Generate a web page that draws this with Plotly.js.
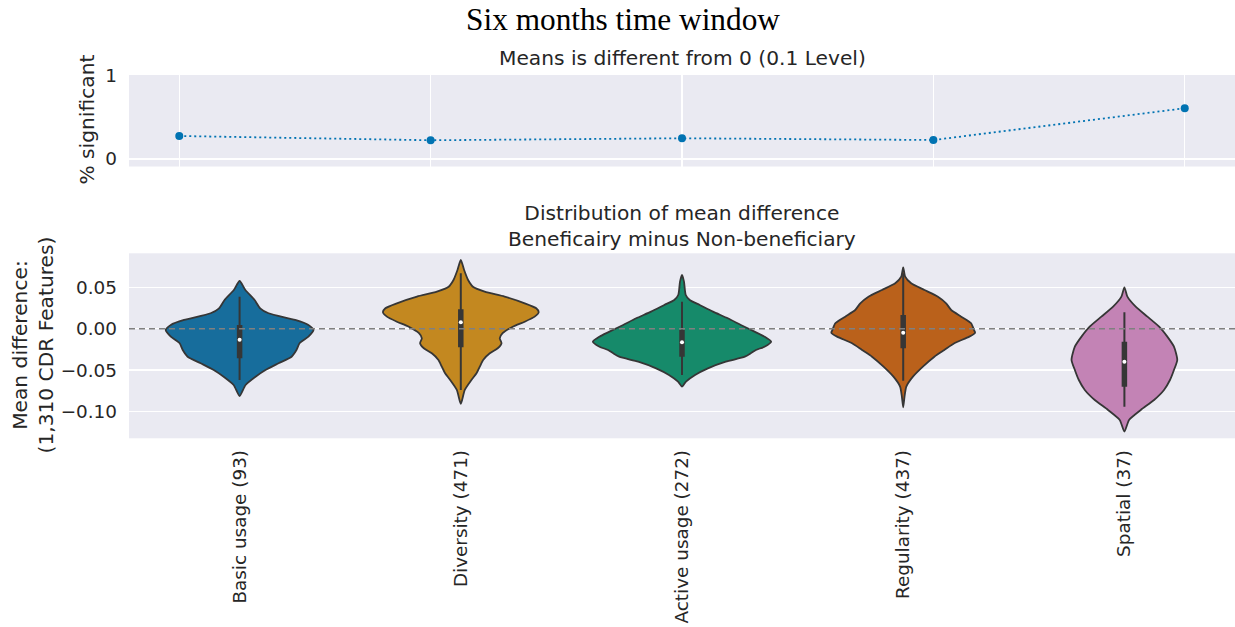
<!DOCTYPE html>
<html><head><meta charset="utf-8">
<script src="https://cdn.plot.ly/plotly-3.0.1.min.js"></script>
<style>html,body{margin:0;padding:0;background:#fff}</style>
</head><body><div id="chart" style="width:1235px;height:627px"></div>
<script>
// ---------- data ----------
const categories = ['Basic usage (93)', 'Diversity (471)', 'Active usage (272)', 'Regularity (437)', 'Spatial (37)'];
const pctSignificant = [0.275, 0.224, 0.248, 0.227, 0.607];

// violin density profiles: levels (mean difference) and half widths (category units)
const basicLevels = [0.0575, 0.0467, 0.0346, 0.0246, 0.0186, 0.0105, 0.0045, -0.0016, -0.0096, -0.0176, -0.0257, -0.0338, -0.0417, -0.0498, -0.0579, -0.0679, -0.0812];
const basicWidths = [0, 0.026, 0.068, 0.093, 0.131, 0.251, 0.311, 0.334, 0.311, 0.271, 0.257, 0.235, 0.176, 0.117, 0.072, 0.027, 0];
const diversityLevels = [0.0828, 0.0708, 0.0587, 0.0506, 0.0446, 0.0386, 0.0306, 0.0246, 0.0198, 0.0145, 0.0084, 0.0024, -0.0055, -0.0116, -0.0176, -0.0236, -0.0297, -0.0377, -0.0458, -0.0538, -0.0619, -0.0739, -0.0908];
const diversityWidths = [0, 0.015, 0.033, 0.055, 0.108, 0.198, 0.289, 0.341, 0.352, 0.334, 0.289, 0.235, 0.189, 0.176, 0.184, 0.167, 0.131, 0.101, 0.086, 0.071, 0.048, 0.018, 0];
const activeLevels = [0.0648, 0.0567, 0.0406, 0.0346, 0.0286, 0.0205, 0.0125, 0.0045, -0.0036, -0.0096, -0.0157, -0.0217, -0.0257, -0.0297, -0.0338, -0.0398, -0.0478, -0.0558, -0.0639, -0.0699];
const activeWidths = [0, 0.009, 0.017, 0.035, 0.080, 0.140, 0.207, 0.266, 0.328, 0.373, 0.403, 0.373, 0.334, 0.311, 0.284, 0.198, 0.117, 0.059, 0.018, 0];
const regularityLevels = [0.0740, 0.0627, 0.0547, 0.0467, 0.0386, 0.0306, 0.0225, 0.0145, 0.0065, -0.0016, -0.0048, -0.0096, -0.0176, -0.0257, -0.0338, -0.0458, -0.0579, -0.0699, -0.0820, -0.0948];
const regularityWidths = [0, 0.009, 0.036, 0.096, 0.157, 0.194, 0.217, 0.262, 0.307, 0.320, 0.325, 0.299, 0.231, 0.186, 0.141, 0.089, 0.044, 0.014, 0.006, 0];
const spatialLevels = [0.0499, 0.0386, 0.0265, 0.0145, 0.0024, -0.0096, -0.0217, -0.0377, -0.0498, -0.0619, -0.0739, -0.0860, -0.0980, -0.1101, -0.1242];
const spatialWidths = [0, 0.0135, 0.051, 0.104, 0.157, 0.194, 0.224, 0.239, 0.224, 0.206, 0.179, 0.134, 0.074, 0.021, 0];

// inner box statistics
const whiskerHigh = [0.0386, 0.0668, 0.0326, 0.0668, 0.0198];
const whiskerLow = [-0.0619, -0.0739, -0.0558, -0.0627, -0.0941];
const quartile3 = [0.0045, 0.0234, -0.0016, 0.0165, -0.0157];
const quartile1 = [-0.0358, -0.0224, -0.0338, -0.0236, -0.0699];
const medians = [-0.0133, 0.0077, -0.0164, -0.0048, -0.0398];

const violinColors = ['#176d9c', '#c38820', '#168a6a', '#ba611b', '#c383b5'];
const profiles = [
  [basicLevels, basicWidths], [diversityLevels, diversityWidths], [activeLevels, activeWidths],
  [regularityLevels, regularityWidths], [spatialLevels, spatialWidths]
];

// ---------- traces ----------
const traces = [];
traces.push({
  x: categories, y: pctSignificant, xaxis: 'x', yaxis: 'y',
  type: 'scatter', mode: 'lines+markers',
  line: {color: '#0173b2', width: 1.8, dash: '2px,3px'},
  marker: {color: '#0173b2', size: 8},
  hoverinfo: 'skip', showlegend: false
});

profiles.forEach(([lv, wd], i) => {
  const xs = [], ys = [];
  for (let k = 0; k < lv.length; k++) { xs.push(i + wd[k]); ys.push(lv[k]); }
  for (let k = lv.length - 2; k >= 1; k--) { xs.push(i - wd[k]); ys.push(lv[k]); }
  xs.push(xs[0]); ys.push(ys[0]);
  traces.push({
    x: xs, y: ys, xaxis: 'x2', yaxis: 'y2', type: 'scatter', mode: 'lines',
    fill: 'toself', fillcolor: violinColors[i],
    line: {color: '#363636', width: 1.8, shape: 'spline', smoothing: 0.6},
    hoverinfo: 'skip', showlegend: false
  });
});

const wx = [], wy = [], bx = [], by = [];
categories.forEach((c, i) => {
  wx.push(i, i, null); wy.push(whiskerLow[i], whiskerHigh[i], null);
  bx.push(i, i, null); by.push(quartile1[i], quartile3[i], null);
});
traces.push({x: wx, y: wy, xaxis: 'x2', yaxis: 'y2', type: 'scatter', mode: 'lines',
  line: {color: '#363636', width: 2}, hoverinfo: 'skip', showlegend: false});
traces.push({x: bx, y: by, xaxis: 'x2', yaxis: 'y2', type: 'scatter', mode: 'lines',
  line: {color: '#363636', width: 5.5}, hoverinfo: 'skip', showlegend: false});
traces.push({x: categories.map((c, i) => i), y: medians, xaxis: 'x2', yaxis: 'y2', type: 'scatter', mode: 'markers',
  marker: {color: '#ffffff', size: 4}, hoverinfo: 'skip', showlegend: false});

// ---------- layout ----------
const W = 1235, H = 627;
const txt = '#262626';
const tickFont = {family: 'DejaVu Sans', size: 18.4, color: txt};
const labelFont = {family: 'DejaVu Sans', size: 20.2, color: txt};
const layout = {
  width: W, height: H,
  margin: {l: 0, r: 0, t: 0, b: 0},
  paper_bgcolor: '#ffffff', plot_bgcolor: '#eaeaf2',
  font: tickFont, showlegend: false,
  title: {text: 'Six months time window', font: {family: 'Liberation Serif', size: 31.3, color: '#000'},
    x: 623 / W, xref: 'container', xanchor: 'center', y: 1 - 19 / H, yref: 'container', yanchor: 'middle'},
  xaxis: {domain: [129 / W, 1], anchor: 'y', type: 'category', range: [-0.2, 4.2], showticklabels: false,
    showgrid: true, gridcolor: '#ffffff', gridwidth: 1.3, zeroline: false, showline: false, ticks: ''},
  yaxis: {domain: [1 - 166.5 / H, 1 - 75 / H], anchor: 'x', range: [-0.09, 1.005], tickvals: [0, 1], ticktext: ['0', '1'],
    showgrid: true, gridcolor: '#ffffff', gridwidth: 1.3, zeroline: false, showline: false, ticks: '',
    ticklabelstandoff: 11, tickfont: tickFont},
  xaxis2: {domain: [129 / W, 1], anchor: 'y2', range: [-0.5, 4.5], tickvals: categories.map((c, i) => i), ticktext: categories,
    tickangle: -90, showgrid: false, zeroline: false, showline: false, ticks: '', ticklabelstandoff: 7, tickfont: tickFont},
  yaxis2: {domain: [1 - 438.3 / H, 1 - 253.3 / H], anchor: 'x2', range: [-0.1322, 0.0909], tickvals: [-0.1, -0.05, 0, 0.05],
    tickformat: '.2f', showgrid: true, gridcolor: '#ffffff', gridwidth: 1.3, zeroline: false, showline: false,
    ticks: '', ticklabelstandoff: 11, tickfont: tickFont},
  shapes: [{type: 'line', xref: 'x2 domain', yref: 'y2', x0: 0, x1: 1, y0: 0, y1: 0, layer: 'above',
    line: {color: '#808080', width: 1.6, dash: '6px,4px'}}],
  annotations: [
    {text: 'Means is different from 0 (0.1 Level)', xref: 'x domain', yref: 'paper', x: 0.5, y: 1 - 58 / H,
      xanchor: 'center', yanchor: 'middle', showarrow: false, font: labelFont},
    {text: 'Distribution of mean difference<br>Beneficairy minus Non-beneficiary', xref: 'x2 domain', yref: 'paper',
      x: 0.5, y: 1 - 225.5 / H, xanchor: 'center', yanchor: 'middle', showarrow: false, font: labelFont},
    {text: '% significant', xref: 'paper', yref: 'paper', x: 86.5 / W, y: 1 - 120 / H, textangle: -90,
      xanchor: 'center', yanchor: 'middle', showarrow: false, font: labelFont},
    {text: 'Mean difference:<br>(1,310 CDR Features)', xref: 'paper', yref: 'paper', x: 32.5 / W, y: 1 - 345 / H,
      textangle: -90, xanchor: 'center', yanchor: 'middle', showarrow: false, font: labelFont}
  ]
};

Plotly.newPlot('chart', traces, layout, {displayModeBar: false, staticPlot: true});
</script></body></html>
